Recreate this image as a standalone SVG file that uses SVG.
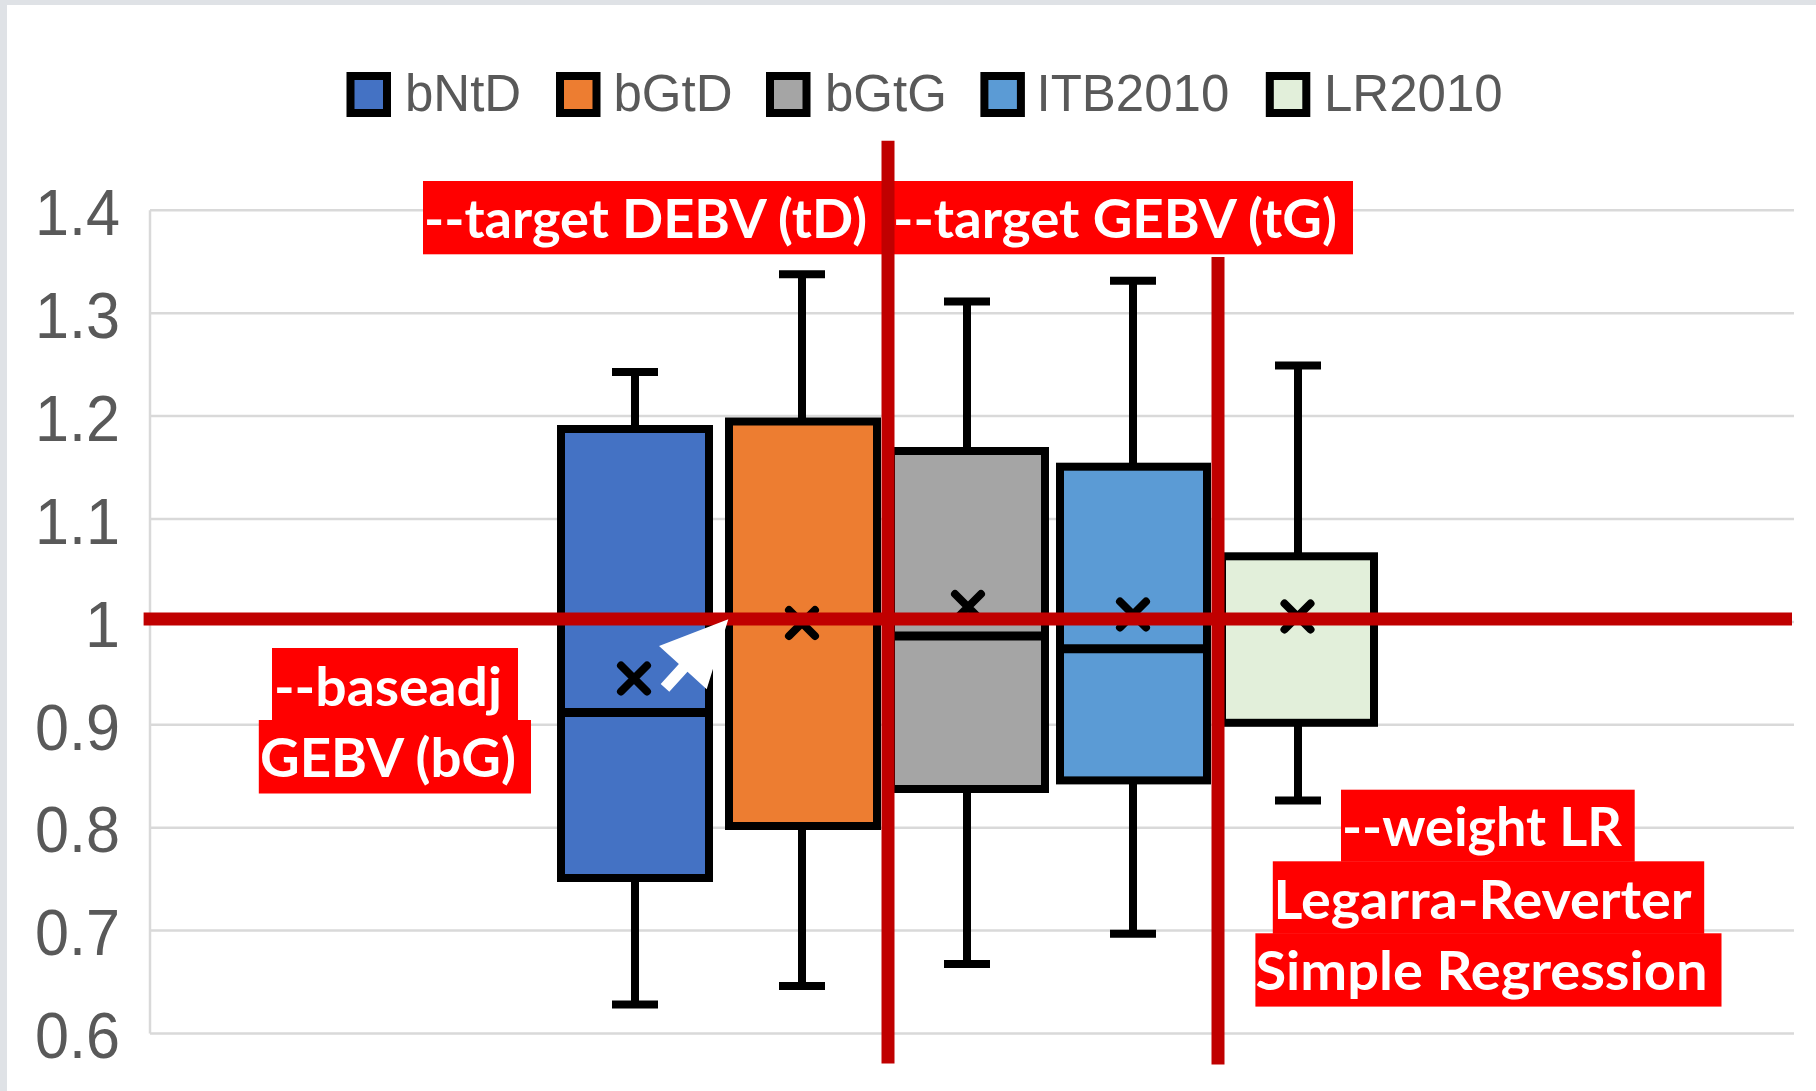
<svg xmlns="http://www.w3.org/2000/svg" width="1816" height="1091" viewBox="0 0 1816 1091">
<style>
.grid{stroke:#d9d9d9;stroke-width:2.5}
.ytick{font-family:"Liberation Sans",Arial,sans-serif;font-size:65px;fill:#595959;text-anchor:end}
.leg{font-family:"Liberation Sans",Arial,sans-serif;font-size:51px;fill:#595959}
.legsq{stroke:#000;stroke-width:8}
.box{stroke:#000;stroke-width:8}
.wh{stroke:#000;stroke-width:8;fill:none}
.med{stroke:#000;stroke-width:9}
.mean{stroke:#000;stroke-width:8;stroke-linecap:round;fill:none}
.redline{stroke:#c00000;stroke-width:13}
.lbl{fill:#ff0000}
.lt{font-family:Lato,"Open Sans",sans-serif;font-weight:bold;font-size:54px;fill:#fff}
</style>
<rect x="0" y="0" width="1816" height="1091" fill="#fff"/>
<rect x="0" y="0" width="1816" height="5" fill="#dfe2e6"/>
<rect x="0" y="0" width="7" height="1091" fill="#dfe2e6"/>

<g id="gridlines">
<line class="grid" x1="150" y1="210.3" x2="150" y2="1033.4"/>
<line class="grid" x1="150" y1="210.3" x2="1794" y2="210.3"/>
<line class="grid" x1="150" y1="313.2" x2="1794" y2="313.2"/>
<line class="grid" x1="150" y1="416.1" x2="1794" y2="416.1"/>
<line class="grid" x1="150" y1="519" x2="1794" y2="519"/>
<line class="grid" x1="150" y1="621.9" x2="1794" y2="621.9"/>
<line class="grid" x1="150" y1="724.8" x2="1794" y2="724.8"/>
<line class="grid" x1="150" y1="827.7" x2="1794" y2="827.7"/>
<line class="grid" x1="150" y1="930.5" x2="1794" y2="930.5"/>
<line class="grid" x1="150" y1="1033.4" x2="1794" y2="1033.4"/>
</g>

<g id="y-axis">
<text class="ytick" x="120" y="235" textLength="85" lengthAdjust="spacingAndGlyphs">1.4</text>
<text class="ytick" x="120" y="337.9" textLength="85" lengthAdjust="spacingAndGlyphs">1.3</text>
<text class="ytick" x="120" y="440.8" textLength="85" lengthAdjust="spacingAndGlyphs">1.2</text>
<text class="ytick" x="120" y="543.7" textLength="85" lengthAdjust="spacingAndGlyphs">1.1</text>
<text class="ytick" x="120" y="646.6" textLength="35" lengthAdjust="spacingAndGlyphs">1</text>
<text class="ytick" x="120" y="749.5" textLength="85" lengthAdjust="spacingAndGlyphs">0.9</text>
<text class="ytick" x="120" y="852.4" textLength="85" lengthAdjust="spacingAndGlyphs">0.8</text>
<text class="ytick" x="120" y="955.2" textLength="85" lengthAdjust="spacingAndGlyphs">0.7</text>
<text class="ytick" x="120" y="1058.1" textLength="85" lengthAdjust="spacingAndGlyphs">0.6</text>
</g>

<g id="legend">
<rect class="legsq" x="350.5" y="76" width="36.5" height="37" fill="#4472c4"/>
<text class="leg" x="405" y="111">bNtD</text>
<rect class="legsq" x="560" y="76" width="36.5" height="37" fill="#ed7d31"/>
<text class="leg" x="613.5" y="111">bGtD</text>
<rect class="legsq" x="770" y="76" width="36.5" height="37" fill="#a5a5a5"/>
<text class="leg" x="825" y="111">bGtG</text>
<rect class="legsq" x="984.4" y="76" width="36.5" height="37" fill="#5b9bd5"/>
<text class="leg" x="1036.5" y="111">ITB2010</text>
<rect class="legsq" x="1269.8" y="76" width="36.5" height="37" fill="#e2efda"/>
<text class="leg" x="1324" y="111">LR2010</text>
</g>

<g id="box-bNtD">
<path class="wh" d="M635 372V429M612 372H658M635 878V1004.5M612 1004.5H658"/>
<rect class="box" x="561" y="429" width="148" height="449" fill="#4472c4"/>
<line class="med" x1="561" y1="712.5" x2="709" y2="712.5"/>
<path class="mean" d="M621 665.5L647 691.5M647 665.5L621 691.5"/>
</g>

<g id="box-bGtD">
<path class="wh" d="M802 274.3V421.5M779 274.3H825M802 826V986M779 986H825"/>
<rect class="box" x="729" y="421.5" width="148" height="404.5" fill="#ed7d31"/>
<path class="mean" d="M789 610L815 636M815 610L789 636"/>
</g>

<g id="box-bGtG">
<path class="wh" d="M967 301.6V451M944 301.6H990M967 789V964M944 964H990"/>
<rect class="box" x="891" y="451" width="154" height="338" fill="#a5a5a5"/>
<line class="med" x1="891" y1="636" x2="1045" y2="636"/>
<path class="mean" d="M955 594L981 620M981 594L955 620"/>
</g>

<g id="box-ITB2010">
<path class="wh" d="M1133 280.7V466.7M1110 280.7H1156M1133 780.4V933.7M1110 933.7H1156"/>
<rect class="box" x="1060" y="466.7" width="147" height="313.7" fill="#5b9bd5"/>
<line class="med" x1="1060" y1="648.7" x2="1207" y2="648.7"/>
<path class="mean" d="M1120 601.5L1146 627.5M1146 601.5L1120 627.5"/>
</g>

<g id="box-LR2010">
<path class="wh" d="M1298 365.5V556.3M1275 365.5H1321M1298 722.8V800.5M1275 800.5H1321"/>
<rect class="box" x="1222" y="556.3" width="152" height="166.5" fill="#e2efda"/>
<path class="mean" d="M1284.5 603.5L1310.5 629.5M1310.5 603.5L1284.5 629.5"/>
</g>

<g id="label-tD">
<rect class="lbl" x="423" y="181" width="459" height="73.3"/>
<text class="lt" x="424" y="238.3" textLength="443" lengthAdjust="spacingAndGlyphs">--target DEBV (tD)</text>
</g>

<g id="label-tG">
<rect class="lbl" x="882" y="181" width="471" height="73.3"/>
<text class="lt" x="893" y="238.3" textLength="444" lengthAdjust="spacingAndGlyphs">--target GEBV (tG)</text>
</g>

<g id="label-bG">
<rect class="lbl" x="272" y="648" width="246" height="72.5"/>
<rect class="lbl" x="258.8" y="720" width="272.2" height="73.5"/>
<text class="lt" x="274" y="705.6" textLength="228" lengthAdjust="spacingAndGlyphs">--baseadj</text>
<text class="lt" x="260" y="777" textLength="256" lengthAdjust="spacingAndGlyphs">GEBV (bG)</text>
</g>

<g id="label-LR">
<rect class="lbl" x="1341" y="789.7" width="293.7" height="72"/>
<rect class="lbl" x="1272.8" y="861.3" width="431.4" height="72.5"/>
<rect class="lbl" x="1255.4" y="933.3" width="466.1" height="73.3"/>
<text class="lt" x="1342" y="845.7" textLength="280" lengthAdjust="spacingAndGlyphs">--weight LR</text>
<text class="lt" x="1273.5" y="918.7" textLength="418" lengthAdjust="spacingAndGlyphs">Legarra-Reverter</text>
<text class="lt" x="1255.5" y="990" textLength="452" lengthAdjust="spacingAndGlyphs">Simple Regression</text>
</g>

<g id="connectors">
<line class="redline" x1="143.6" y1="619" x2="1792" y2="619" stroke-width="13.5"/>
<line class="redline" x1="888" y1="140.8" x2="888" y2="1063.6"/>
<line class="redline" x1="1218" y1="257" x2="1218" y2="1064.6"/>
<polygon id="arrow" fill="#fff" points="728.3,619.3 706.7,689.3 687.5,671.8 669.3,691.7 660.7,684 678.9,664 659,646"/>
</g>
</svg>
